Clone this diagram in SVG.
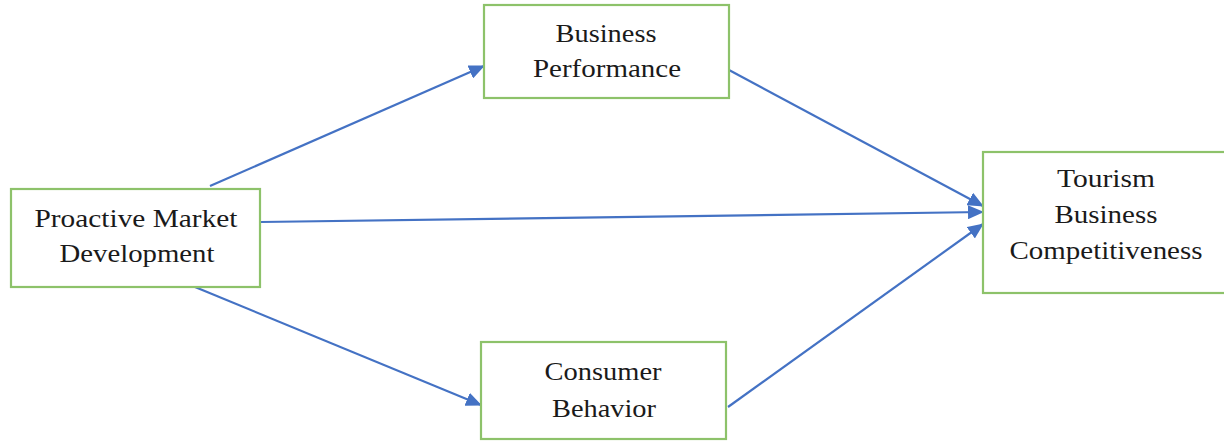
<svg xmlns="http://www.w3.org/2000/svg" width="1224" height="442" viewBox="0 0 1224 442">
<style>
.box{fill:#fff;stroke:#8DC26A;stroke-width:2.2}
.lbl{font-family:"Liberation Serif","Times New Roman",serif;font-size:26px;fill:#1a1a1a;text-anchor:middle}
.edge{stroke:#4472C4;stroke-width:2.2;fill:none}
</style>
<defs>
<marker id="ah" markerUnits="userSpaceOnUse" markerWidth="16" markerHeight="14" refX="15" refY="7" orient="auto">
<path d="M0,0 L16,7 L0,14 Z" fill="#4472C4"/>
</marker>
</defs>
<rect width="1224" height="442" fill="#fff"/>
<g id="connectors">
<line class="edge" x1="210" y1="186" x2="484" y2="66" marker-end="url(#ah)"/>
<line class="edge" x1="261" y1="222" x2="983" y2="212" marker-end="url(#ah)"/>
<line class="edge" x1="195" y1="287" x2="481" y2="405" marker-end="url(#ah)"/>
<line class="edge" x1="729" y1="70" x2="983" y2="206" marker-end="url(#ah)"/>
<line class="edge" x1="728" y1="407" x2="983" y2="224" marker-end="url(#ah)"/>
</g>
<g id="proactive">
<rect class="box" x="11" y="189" width="249" height="98"/>
<text class="lbl" x="136" y="227" textLength="203" lengthAdjust="spacingAndGlyphs">Proactive Market</text>
<text class="lbl" x="137" y="262" textLength="155" lengthAdjust="spacingAndGlyphs">Development</text>
</g>
<g id="business-performance">
<rect class="box" x="484" y="5" width="245" height="93"/>
<text class="lbl" x="606" y="42" textLength="101" lengthAdjust="spacingAndGlyphs">Business</text>
<text class="lbl" x="607" y="77" textLength="148" lengthAdjust="spacingAndGlyphs">Performance</text>
</g>
<g id="consumer-behavior">
<rect class="box" x="481" y="342" width="245" height="97"/>
<text class="lbl" x="603" y="380" textLength="117" lengthAdjust="spacingAndGlyphs">Consumer</text>
<text class="lbl" x="604" y="417" textLength="104" lengthAdjust="spacingAndGlyphs">Behavior</text>
</g>
<g id="tourism">
<rect class="box" x="983" y="152" width="246" height="141"/>
<text class="lbl" x="1106" y="187" textLength="98" lengthAdjust="spacingAndGlyphs">Tourism</text>
<text class="lbl" x="1106" y="223" textLength="103" lengthAdjust="spacingAndGlyphs">Business</text>
<text class="lbl" x="1106" y="259" textLength="193" lengthAdjust="spacingAndGlyphs">Competitiveness</text>
</g>
</svg>
